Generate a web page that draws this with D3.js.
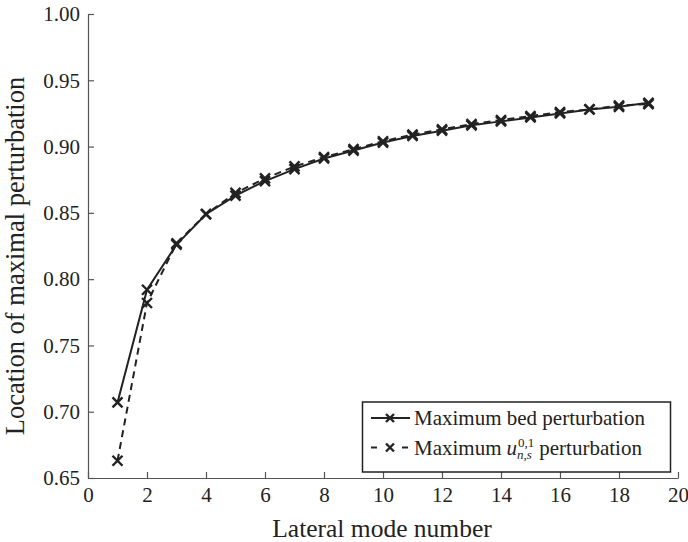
<!DOCTYPE html>
<html>
<head>
<meta charset="utf-8">
<script src="https://cdn.jsdelivr.net/npm/d3@7"></script>
</head>
<body style="margin:0;background:#fff">
<svg id="chart" width="688" height="542"></svg>
<script>
// Lateral mode numbers
const modes = [1, 2, 3, 4, 5, 6, 7, 8, 9, 10, 11, 12, 13, 14, 15, 16, 17, 18, 19];
// Location of the maximum bed perturbation
const bedMax = [0.707, 0.792, 0.826, 0.849, 0.863, 0.874, 0.883, 0.891, 0.897, 0.903,
                0.908, 0.912, 0.916, 0.919, 0.922, 0.925, 0.928, 0.930, 0.933];
// Location of the maximum u^{0,1}_{n,s} perturbation
const uMax = [0.663, 0.782, 0.827, 0.849, 0.865, 0.876, 0.885, 0.892, 0.898, 0.904,
              0.909, 0.913, 0.917, 0.920, 0.923, 0.926, 0.928, 0.931, 0.932];
const xTicks = [0, 2, 4, 6, 8, 10, 12, 14, 16, 18, 20];
const yTicks = [0.65, 0.70, 0.75, 0.80, 0.85, 0.90, 0.95, 1.00];

const FONT = '"Liberation Serif"';
const INK = "#222";
const svg = d3.select("#chart");
const plotLeft = 88, plotRight = 678, plotTop = 14, plotBottom = 478;

const x = d3.scaleLinear().domain([0, 20]).range([plotLeft, plotRight]);
const y = d3.scaleLinear().domain([0.65, 1.00]).range([plotBottom, plotTop]);

const axisColor = "#555";

function styleAxis(g) {
  g.attr("font-family", FONT);
  g.select(".domain").attr("stroke", axisColor).attr("stroke-width", 1.2);
  g.selectAll(".tick line").attr("stroke", axisColor).attr("stroke-width", 1.2);
  g.selectAll(".tick text").attr("font-family", FONT).attr("font-size", 21).attr("fill", INK);
}

// x axis, ticks pointing inwards
svg.append("g").attr("transform", `translate(0,${plotBottom})`)
  .call(d3.axisBottom(x).tickValues(xTicks).tickSizeInner(-6).tickSizeOuter(0).tickPadding(9)
        .tickFormat(d3.format("d")))
  .call(styleAxis);

// y axis, ticks pointing inwards
svg.append("g").attr("transform", `translate(${plotLeft},0)`)
  .call(d3.axisLeft(y).tickValues(yTicks).tickSizeInner(-6).tickSizeOuter(0).tickPadding(8)
        .tickFormat(d3.format(".2f")))
  .call(styleAxis);

const label = (sel) => sel.attr("font-family", FONT).attr("fill", INK);

// axis titles
svg.append("text").call(label).attr("x", 382).attr("y", 537)
  .attr("text-anchor", "middle").attr("font-size", 25.5).text("Lateral mode number");
svg.append("text").call(label).attr("transform", "translate(24,256) rotate(-90)")
  .attr("text-anchor", "middle").attr("font-size", 26.5).text("Location of maximal perturbation");

const line = d3.line().x(d => x(d[0])).y(d => y(d[1]));
const cross = (g, cx, cy, s) => {
  g.append("path")
    .attr("d", `M${cx - s},${cy - s}L${cx + s},${cy + s}M${cx - s},${cy + s}L${cx + s},${cy - s}`)
    .attr("stroke", INK).attr("stroke-width", 2.4).attr("fill", "none");
};

const series = [
  { values: uMax, dash: "7,5" },
  { values: bedMax, dash: null }
];
series.forEach(s => {
  const pts = modes.map((m, i) => [m, s.values[i]]);
  svg.append("path").datum(pts).attr("d", line)
    .attr("fill", "none").attr("stroke", INK).attr("stroke-width", 2)
    .attr("stroke-dasharray", s.dash);
  const g = svg.append("g");
  pts.forEach(p => cross(g, x(p[0]), y(p[1]), 5));
});

// legend
const lg = svg.append("g");
lg.append("rect").attr("x", 362.5).attr("y", 402).attr("width", 308).attr("height", 70)
  .attr("fill", "#fff").attr("stroke", INK).attr("stroke-width", 1.5);
const row1 = 418, row2 = 447.5;
lg.append("line").attr("x1", 371).attr("x2", 410).attr("y1", row1).attr("y2", row1)
  .attr("stroke", INK).attr("stroke-width", 2);
cross(lg, 390, row1, 4);
lg.append("line").attr("x1", 371).attr("x2", 377).attr("y1", row2).attr("y2", row2)
  .attr("stroke", INK).attr("stroke-width", 2);
lg.append("line").attr("x1", 402).attr("x2", 408).attr("y1", row2).attr("y2", row2)
  .attr("stroke", INK).attr("stroke-width", 2);
cross(lg, 390, row2, 4);

const tx = 414;
lg.append("text").call(label).attr("x", tx).attr("y", row1 + 7).attr("font-size", 21)
  .text("Maximum bed perturbation");

const t2 = lg.append("text").call(label).attr("x", tx).attr("y", row2 + 7.5).attr("font-size", 21).text("Maximum");
const w0 = t2.node().getComputedTextLength() + 5;
const uText = lg.append("text").call(label).attr("x", tx + w0).attr("y", row2 + 7.5).attr("font-size", 21)
  .attr("font-style", "italic").text("u");
const wu = uText.node().getComputedTextLength();
const sup = lg.append("text").call(label).attr("x", tx + w0 + wu + 1).attr("y", row2 - 0.5).attr("font-size", 13).text("0,1");
const sub = lg.append("text").call(label).attr("x", tx + w0 + wu).attr("y", row2 + 11.5).attr("font-size", 13)
  .attr("font-style", "italic").text("n,s");
const ws = Math.max(sup.node().getComputedTextLength(), sub.node().getComputedTextLength());
lg.append("text").call(label).attr("x", tx + w0 + wu + ws + 6).attr("y", row2 + 7.5).attr("font-size", 21).text("perturbation");
</script>
</body>
</html>
